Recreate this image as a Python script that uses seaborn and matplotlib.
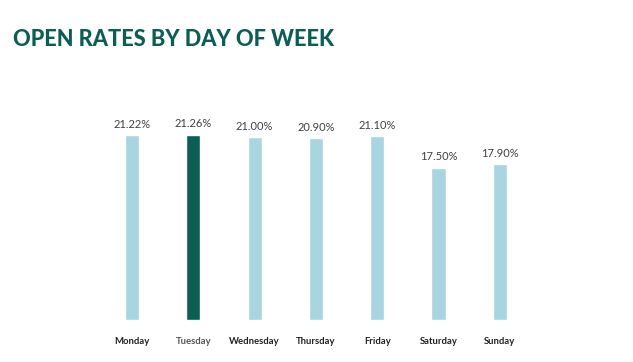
import matplotlib
matplotlib.use("Agg")
import matplotlib.pyplot as plt
import seaborn as sns
import pandas as pd

days = ["Monday", "Tuesday", "Wednesday", "Thursday", "Friday", "Saturday", "Sunday"]
open_rates = [21.22, 21.26, 21.00, 20.90, 21.10, 17.50, 17.90]
labels = ["21.22%", "21.26%", "21.00%", "20.90%", "21.10%", "17.50%", "17.90%"]
highlight = "Tuesday"

sns.set_theme(style="white")
plt.rcParams['font.family'] = ['Lato', 'DejaVu Sans']

light = "#a9d5e0"
dark = "#0c5e54"

df = pd.DataFrame({"day": days, "rate": open_rates})
palette = {d: (dark if d == highlight else light) for d in days}

fig = plt.figure(figsize=(6.33, 3.62), dpi=100)
ax = fig.add_axes([0.160, 0.116, 0.678, 0.601])
sns.barplot(data=df, x="day", y="rate", hue="day", palette=palette, order=days,
            width=0.23, legend=False, ax=ax, saturation=1)
ax.set_xlim(-0.5, 6.5)
ax.set_ylim(0, 25)
for i, (v, lab) in enumerate(zip(open_rates, labels)):
    ax.annotate(lab, (i, v), xytext=(0, 4), textcoords="offset points",
                ha="center", va="bottom", fontsize=8, color="#404040")
ax.set_xlabel("")
ax.set_ylabel("")
ax.set_yticks([])
ax.tick_params(axis="x", length=0, pad=12)
for t, d in zip(ax.get_xticklabels(), days):
    t.set_fontsize(6.8)
    t.set_fontweight("bold")
    t.set_color("#555555" if d == highlight else "#222222")
for s in ax.spines.values():
    s.set_visible(False)

fig.text(13 / 633, 1 - 40 / 362, "OPEN RATES BY DAY OF WEEK", fontsize=15.7,
         fontweight="black", color=dark, ha="left", va="center")

fig.savefig("out.png", dpi=100, facecolor="white")
